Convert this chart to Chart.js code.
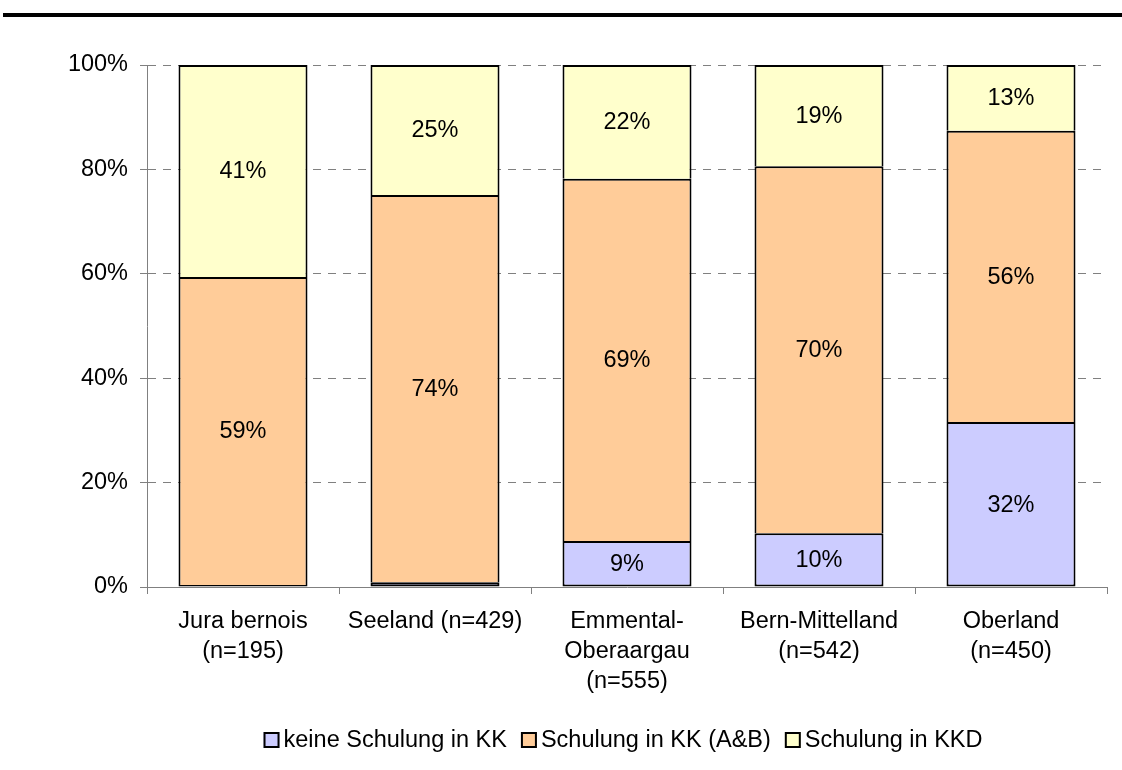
<!DOCTYPE html>
<html>
<head>
<meta charset="utf-8">
<title>Schulung nach Region</title>
<script src="https://cdn.jsdelivr.net/npm/chart.js@4/dist/chart.umd.min.js"></script>
<style>
  html, body { margin: 0; padding: 0; background: #fff; }
  canvas { display: block; }
</style>
</head>
<body>
<canvas id="chart" width="1122" height="770"></canvas>
<script>
// data (percent of each region)
const regions = [
    ['Jura bernois', '(n=195)'],
    'Seeland (n=429)',
    ['Emmental-', 'Oberaargau', '(n=555)'],
    ['Bern-Mittelland', '(n=542)'],
    ['Oberland', '(n=450)']
];
const seriesNames = ['keine Schulung in KK', 'Schulung in KK (A&B)', 'Schulung in KKD'];
const keineSchulung = [0.4, 0.9, 8.8, 10.3, 31.6];
const schulungKK = [59.0, 74.2, 69.4, 70.3, 55.8];
const schulungKKD = [40.6, 24.9, 21.8, 19.4, 12.6];
const yTicks = [0, 20, 40, 60, 80, 100];

const FONT = "'Liberation Sans', Arial, sans-serif";
const SIZE = 23.5;
Chart.defaults.font.family = FONT;
Chart.defaults.font.size = SIZE;
Chart.defaults.color = '#000';

// thick rule across the top
const topRule = {
    id: 'topRule',
    beforeDraw(chart) {
        const ctx = chart.ctx;
        ctx.save();
        ctx.fillStyle = '#000';
        ctx.fillRect(3, 13, chart.width - 3, 4);
        ctx.restore();
    }
};

// percent labels in the middle of each segment
const segmentLabels = {
    id: 'segmentLabels',
    afterDatasetsDraw(chart) {
        const ctx = chart.ctx;
        ctx.save();
        ctx.font = SIZE + 'px ' + FONT;
        ctx.fillStyle = '#000';
        ctx.textAlign = 'center';
        ctx.textBaseline = 'middle';
        chart.data.datasets.forEach((ds, i) => {
            chart.getDatasetMeta(i).data.forEach((bar, j) => {
                const v = ds.data[j];
                if (v < 2) return;
                ctx.fillText(Math.round(v) + '%', bar.x, (bar.y + bar.base) / 2 + 1);
            });
        });
        ctx.restore();
    }
};

// legend like the original: small boxes, tight gap
const bottomLegend = {
    id: 'bottomLegend',
    afterDraw(chart) {
        const ctx = chart.ctx;
        const box = 16, gap = 4, space = 14, cy = 740;
        ctx.save();
        ctx.font = SIZE + 'px ' + FONT;
        const items = chart.data.datasets.map(ds => ({
            text: ds.label,
            color: ds.backgroundColor,
            w: ctx.measureText(ds.label).width
        }));
        let total = 0;
        items.forEach((it, i) => { total += box + gap + it.w + (i ? space : 0); });
        let x = 623 - total / 2;
        ctx.textBaseline = 'middle';
        items.forEach(it => {
            ctx.fillStyle = it.color;
            ctx.fillRect(x, cy - box / 2, box, box);
            ctx.strokeStyle = '#000';
            ctx.lineWidth = 2;
            ctx.strokeRect(x + 1, cy - box / 2 + 1, box - 2, box - 2);
            ctx.fillStyle = '#000';
            ctx.fillText(it.text, x + box + gap, cy + 1);
            x += box + gap + it.w + space;
        });
        ctx.restore();
    }
};

const ctx = document.getElementById('chart');
const chart = new Chart(ctx, {
    type: 'bar',
    data: {
        labels: regions,
        datasets: [{
            label: seriesNames[0],
            data: keineSchulung,
            backgroundColor: '#CCCCFF',
            borderColor: '#000',
            borderWidth: 2,
            borderSkipped: false
        }, {
            label: seriesNames[1],
            data: schulungKK,
            backgroundColor: '#FFCC99',
            borderColor: '#000',
            borderWidth: 2,
            borderSkipped: 'bottom'
        }, {
            label: seriesNames[2],
            data: schulungKKD,
            backgroundColor: '#FFFFCC',
            borderColor: '#000',
            borderWidth: 2,
            borderSkipped: 'bottom'
        }]
    },
    options: {
        responsive: false,
        animation: false,
        barPercentage: 1,
        categoryPercentage: 0.672,
        layout: { padding: { top: 65, right: 15, left: 0, bottom: 0 } },
        plugins: {
            legend: { display: false },
            tooltip: { enabled: false }
        },
        scales: {
            x: {
                stacked: true,
                offset: true,
                grid: { offset: true, drawOnChartArea: false, color: '#808080', tickLength: 7 },
                border: { color: '#808080' },
                ticks: {
                    color: '#000',
                    font: { size: SIZE, lineHeight: '30px' },
                    padding: 13,
                    maxRotation: 0,
                    autoSkip: false
                },
                afterFit(scale) { scale.height = 183; }
            },
            y: {
                stacked: true,
                min: 0,
                max: 100,
                afterBuildTicks(scale) { scale.ticks = yTicks.map(v => ({ value: v })); },
                ticks: {
                    color: '#000',
                    font: { size: SIZE },
                    padding: 12,
                    callback: v => v + '%'
                },
                grid: { color: '#808080', tickLength: 7, tickBorderDash: [] },
                border: { color: '#808080', dash: [8, 7] },
                afterFit(scale) { scale.width = 147; }
            }
        }
    },
    plugins: [topRule, segmentLabels, bottomLegend]
});
</script>
</body>
</html>
